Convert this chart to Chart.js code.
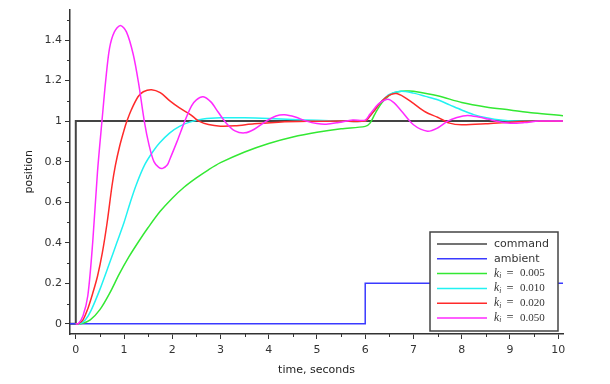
<!DOCTYPE html>
<html><head><meta charset="utf-8">
<script src="https://cdn.jsdelivr.net/npm/chart.js@4/dist/chart.umd.min.js"></script>
<style>html,body{margin:0;padding:0;background:#fff;}#wrap{width:610px;height:384px;}</style>
</head><body><div id="wrap"><canvas id="c" width="610" height="384"></canvas></div>
<script>
// ---- tick labels ----
const xTickValues = [0,1,2,3,4,5,6,7,8,9,10];
const xTickLabels = ['0','1','2','3','4','5','6','7','8','9','10'];
const xMinorTicks = [0.5,1.5,2.5,3.5,4.5,5.5,6.5,7.5,8.5,9.5];
const yTickValues = [0,0.2,0.4,0.6,0.8,1.0,1.2,1.4];
const yTickLabels = ['0','0.2','0.4','0.6','0.8','1','1.2','1.4'];
const yMinorTicks = [0.1,0.3,0.5,0.7,0.9,1.1,1.3,1.5];

// ---- series ----
const commandT = [-0.12, 0, 0, 10.1];
const commandV = [0, 0, 1, 1];

const ambientT = [-0.12, 6, 6, 10.1];
const ambientV = [0, 0, 0.2, 0.2];

const k005T = [0,0.1,0.3,0.5,0.7,0.9,1.1,1.3,1.5,1.75,2.0,2.25,2.5,2.75,3.0,3.5,4.0,4.5,5.0,5.5,6.0,6.1,6.2,6.3,6.4,6.55,6.75,6.9,7.0,7.5,8.0,8.5,9.0,9.5,10.1];
const k005V = [0,0,0.02,0.07,0.15,0.245,0.33,0.405,0.475,0.555,0.62,0.675,0.72,0.76,0.795,0.848,0.89,0.922,0.945,0.962,0.974,0.99,1.035,1.075,1.105,1.135,1.147,1.148,1.147,1.125,1.092,1.07,1.055,1.04,1.027];

const k010T = [0,0.08,0.2,0.32,0.5,0.7,0.85,1.0,1.13,1.26,1.43,1.6,1.74,1.95,2.15,2.36,2.64,3.0,3.5,4.0,4.5,5.0,5.5,6.0,6.1,6.2,6.35,6.5,6.74,7.0,7.25,7.5,7.75,8.0,8.25,8.54,8.8,9.1,10.1];
const k010V = [0,0,0.02,0.068,0.17,0.30,0.40,0.50,0.60,0.69,0.785,0.85,0.893,0.942,0.974,0.995,1.01,1.016,1.016,1.013,1.008,1.004,1.001,1.0,1.025,1.055,1.1,1.132,1.147,1.138,1.122,1.105,1.08,1.055,1.032,1.015,1.005,1.0,1.0];

const k020T = [0,0.05,0.15,0.25,0.35,0.45,0.55,0.65,0.75,0.82,0.91,1.0,1.06,1.15,1.29,1.4,1.57,1.75,1.95,2.15,2.36,2.45,2.55,2.75,3.0,3.3,3.7,4.2,4.8,5.5,6.0,6.1,6.2,6.35,6.5,6.64,6.8,7.0,7.25,7.5,7.75,8.0,8.5,9.0,9.5,10.1];
const k020V = [0,0,0.02,0.075,0.15,0.235,0.35,0.5,0.68,0.78,0.877,0.955,1.0,1.055,1.12,1.145,1.155,1.14,1.1,1.065,1.035,1.018,1.0,0.983,0.975,0.977,0.987,0.995,0.999,1.0,1.0,1.025,1.055,1.1,1.128,1.136,1.12,1.087,1.045,1.019,0.99,0.982,0.987,0.995,0.999,1.0];

const k050T = [0,0.05,0.15,0.25,0.35,0.45,0.55,0.62,0.7,0.8,0.925,1.05,1.19,1.3,1.42,1.52,1.62,1.72,1.8,1.9,1.95,2.1,2.26,2.4,2.5,2.64,2.8,2.95,3.12,3.3,3.5,3.7,3.95,4.15,4.33,4.55,4.78,5.0,5.19,5.45,5.74,6.0,6.1,6.2,6.3,6.47,6.6,6.75,7.0,7.29,7.5,7.71,7.9,8.12,8.35,8.54,8.75,9.0,9.3,9.6,10.1];
const k050V = [0,0,0.04,0.14,0.40,0.75,1.02,1.2,1.36,1.44,1.472,1.44,1.33,1.19,1.0,0.88,0.8,0.772,0.767,0.785,0.812,0.9,1.0,1.075,1.105,1.12,1.095,1.045,0.99,0.952,0.942,0.96,1.0,1.025,1.031,1.02,1.0,0.988,0.985,0.993,1.005,1.005,1.035,1.065,1.09,1.108,1.09,1.05,0.982,0.95,0.966,1.0,1.018,1.028,1.02,1.01,0.998,0.99,0.993,1.0,1.0];

const seriesLabels = ['command','ambient','k_i = 0.005','k_i = 0.010','k_i = 0.020','k_i = 0.050'];
const seriesColors = ['#444444','#3a3aff','#33e833','#22f2f2','#ff2a2a','#ff2aff'];

function pts(t, v){ return t.map((x,i)=>({x:x, y:v[i]})); }

const datasets = [
  {label: seriesLabels[0], data: pts(commandT, commandV), borderColor: seriesColors[0], borderWidth: 2, tension: 0, order: 6},
  {label: seriesLabels[1], data: pts(ambientT, ambientV), borderColor: seriesColors[1], borderWidth: 1.5, tension: 0, order: 5},
  {label: seriesLabels[2], data: pts(k005T, k005V), borderColor: seriesColors[2], borderWidth: 1.5, tension: 0.3, order: 4},
  {label: seriesLabels[3], data: pts(k010T, k010V), borderColor: seriesColors[3], borderWidth: 1.5, tension: 0.3, order: 3},
  {label: seriesLabels[4], data: pts(k020T, k020V), borderColor: seriesColors[4], borderWidth: 1.5, tension: 0.3, order: 2},
  {label: seriesLabels[5], data: pts(k050T, k050V), borderColor: seriesColors[5], borderWidth: 1.5, tension: 0.3, order: 1}
].map(d => Object.assign({showLine: true, pointRadius: 0, pointHoverRadius: 0, fill: false}, d));

const axisColor = '#333';

const minorTicksPlugin = {
  id: 'minorTicks',
  afterDraw(chart) {
    const ctx = chart.ctx, ca = chart.chartArea;
    const xs = chart.scales.x, ys = chart.scales.y;
    ctx.save();
    ctx.strokeStyle = axisColor; ctx.lineWidth = 1;
    ctx.beginPath();
    xMinorTicks.forEach(v => { const px = Math.round(xs.getPixelForValue(v)) + 0.5; ctx.moveTo(px, ca.bottom); ctx.lineTo(px, ca.bottom + 3); });
    yMinorTicks.forEach(v => { const py = Math.round(ys.getPixelForValue(v)) + 0.5; ctx.moveTo(ca.left, py); ctx.lineTo(ca.left - 3, py); });
    ctx.stroke();
    ctx.restore();
  }
};

const boxLegendPlugin = {
  id: 'boxLegend',
  afterDraw(chart) {
    const ctx = chart.ctx, ca = chart.chartArea;
    const w = 128, h = 99;
    const x0 = ca.right - 5 - w, y0 = ca.bottom - 3 - h;
    ctx.save();
    ctx.fillStyle = '#fff';
    ctx.fillRect(x0, y0, w, h);
    ctx.strokeStyle = '#444'; ctx.lineWidth = 1.5;
    ctx.strokeRect(x0, y0, w, h);
    chart.data.datasets.forEach((ds, i) => {
      const y = y0 + 12 + i * 14.8;
      ctx.strokeStyle = ds.borderColor; ctx.lineWidth = 1.5;
      ctx.beginPath(); ctx.moveTo(x0 + 7, y); ctx.lineTo(x0 + 57, y); ctx.stroke();
      ctx.fillStyle = '#333';
      ctx.textBaseline = 'middle'; ctx.textAlign = 'left';
      const tx = x0 + 64;
      if (ds.label.startsWith('k_i')) {
        const num = ds.label.split('=')[1].trim();
        ctx.font = 'italic 11.5px "Liberation Serif", serif';
        ctx.fillText('k', tx, y);
        ctx.font = 'italic 7.5px "Liberation Serif", serif';
        ctx.fillText('i', tx + 5.3, y + 2.5);
        ctx.font = '12.5px "Liberation Serif", serif';
        ctx.fillText('=', tx + 12.5, y);
        ctx.font = '11px "Liberation Serif", serif';
        ctx.fillText(num, tx + 26, y);
      } else {
        ctx.font = '11px "DejaVu Sans", sans-serif';
        ctx.fillText(ds.label, tx, y + 0.5);
      }
    });
    ctx.restore();
  }
};

const tickFont = {family: 'DejaVu Sans', size: 11};

new Chart(document.getElementById('c'), {
  type: 'scatter',
  data: {datasets},
  options: {
    responsive: false,
    animation: false,
    events: [],
    layout: {padding: {top: 5, right: 47, bottom: 0, left: 0}},
    plugins: {legend: {display: false}, tooltip: {enabled: false}},
    scales: {
      x: {
        type: 'linear', min: -0.12, max: 10.1,
        afterBuildTicks: s => { s.ticks = xTickValues.map(v => ({value: v})); },
        afterFit: s => { s.height = 50; },
        ticks: {autoSkip: false, maxRotation: 0, font: tickFont, color: '#333', padding: 5,
          callback: (v) => { const i = xTickValues.indexOf(v); return i >= 0 ? xTickLabels[i] : ''; }},
        grid: {display: true, drawOnChartArea: false, drawTicks: true, tickLength: 5, tickColor: axisColor, tickWidth: 1},
        border: {display: true, color: axisColor, width: 1.5},
        title: {display: true, text: 'time, seconds', font: {family: 'DejaVu Sans', size: 11}, color: '#222', padding: {top: 0, bottom: 7}}
      },
      y: {
        type: 'linear', min: -0.05, max: 1.55,
        afterBuildTicks: s => { s.ticks = yTickValues.map(v => ({value: v})); },
        afterFit: s => { s.width = 70; },
        ticks: {autoSkip: false, font: tickFont, color: '#333', padding: 3,
          callback: (v) => { const i = yTickValues.findIndex(t => Math.abs(t - v) < 1e-6); return i >= 0 ? yTickLabels[i] : ''; }},
        grid: {display: true, drawOnChartArea: false, drawTicks: true, tickLength: 5, tickColor: axisColor, tickWidth: 1},
        border: {display: true, color: axisColor, width: 1.5},
        title: {display: true, text: 'position', font: {family: 'DejaVu Sans', size: 11}, color: '#222', padding: {top: 23, bottom: 0}}
      }
    }
  },
  plugins: [minorTicksPlugin, boxLegendPlugin]
});
</script></body></html>
